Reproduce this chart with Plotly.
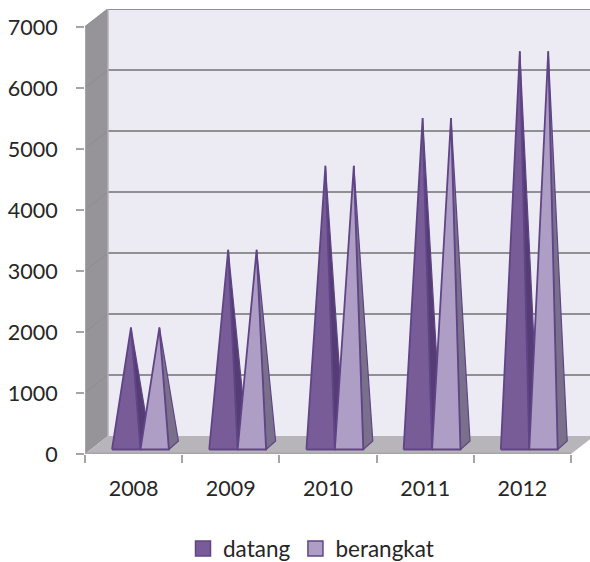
import plotly.graph_objects as go

years = ["2008", "2009", "2010", "2011", "2012"]
datang = [1930, 3205, 4580, 5365, 6460]
berangkat = [1930, 3205, 4580, 5365, 6460]
series_names = ["datang", "berangkat"]
front_colors = ["#785C98", "#AE9EC5"]
side_colors = ["#553C75", "#7A708C"]
edge_color = "#5F4585"

PX_X = 97.2
PX_Y = 0.06107
DEPTH_X = 23 / PX_X
DEPTH_Y = 18 / PX_Y
XMAX = 505 / PX_X
YTOP = 7000 + DEPTH_Y
GAP = 0.278
W = 0.2925
PDX = 0.098
PDY = 139
BASE = 74

fig = go.Figure()
values = [datang, berangkat]
for s, vals in enumerate(values):
    for i, v in enumerate(vals):
        x0 = i + GAP + s * W
        x1 = x0 + W
        ax = (x0 + x1) / 2 + PDX / 2
        ay = BASE + PDY / 2 + v
        fig.add_trace(go.Scatter(
            x=[x1, x1 + PDX, ax, x1], y=[BASE, BASE + PDY, ay, BASE],
            mode="lines", fill="toself", fillcolor=side_colors[s],
            line=dict(color=edge_color, width=1.2), showlegend=False, hoverinfo="skip"))
        fig.add_trace(go.Scatter(
            x=[x0, x1, ax, x0], y=[BASE, BASE, ay, BASE],
            mode="lines", fill="toself", fillcolor=front_colors[s],
            line=dict(color=edge_color, width=1.8), showlegend=False,
            name=series_names[s], text=years[i], hoverinfo="name+text"))
    fig.add_trace(go.Scatter(
        x=[None], y=[None], mode="markers", name=series_names[s],
        marker=dict(symbol="square", size=15, color=front_colors[s],
                    line=dict(color=edge_color, width=1.5))))

wall = "#A6A6A6"
grid = "#909092"
shapes = []
shapes.append(dict(type="path", layer="below", fillcolor="#ECEAF2", line_width=0,
                   path=f"M {DEPTH_X} {DEPTH_Y} L {XMAX} {DEPTH_Y} L {XMAX} {YTOP} L {DEPTH_X} {YTOP} Z"))
shapes.append(dict(type="path", layer="below", fillcolor="#969498", line_width=0,
                   path=f"M 0 0 L {DEPTH_X} {DEPTH_Y} L {DEPTH_X} {YTOP} L 0 7000 Z"))
shapes.append(dict(type="path", layer="below", fillcolor="#B8B5BA", line_width=0,
                   path=f"M 0 0 L 5 0 L {5 + DEPTH_X} {DEPTH_Y} L {DEPTH_X} {DEPTH_Y} Z"))
for k in range(1, 8):
    y = k * 1000
    shapes.append(dict(type="line", layer="below", x0=0, y0=y, x1=DEPTH_X, y1=y + DEPTH_Y,
                       line=dict(color=grid, width=1.5)))
    shapes.append(dict(type="line", layer="below", x0=DEPTH_X, y0=y + DEPTH_Y, x1=XMAX, y1=y + DEPTH_Y,
                       line=dict(color=grid, width=2)))
shapes.append(dict(type="line", layer="below", x0=0, y0=0, x1=0, y1=7000, line=dict(color=wall, width=2)))
shapes.append(dict(type="line", layer="below", x0=0, y0=0, x1=5, y1=0, line=dict(color=wall, width=3)))
shapes.append(dict(type="line", layer="below", x0=DEPTH_X, y0=DEPTH_Y, x1=DEPTH_X, y1=YTOP,
                   line=dict(color="#B4B2B8", width=1.5)))

font = dict(family="Lato", size=21.5, color="#262626")
legend_font = dict(family="Lato", size=22.5, color="#262626")
fig.update_layout(
    width=590, height=562, autosize=False,
    margin=dict(l=85, r=0, t=9, b=107.5, autoexpand=False),
    paper_bgcolor="white", plot_bgcolor="white",
    shapes=shapes, font=font, hovermode="closest",
    xaxis=dict(range=[0, XMAX], tickmode="array", tickvals=[i + 0.5 for i in range(5)],
               ticktext=years, ticks="", showgrid=False, zeroline=False, showline=False,
               ticklabelstandoff=19, tickfont=font,
               minor=dict(tickmode="array", tickvals=list(range(6)), ticks="outside",
                          ticklen=8, tickwidth=2, tickcolor=wall, showgrid=False)),
    yaxis=dict(range=[0, YTOP], tickmode="array", tickvals=[k * 1000 for k in range(8)],
               ticks="outside", ticklen=8, tickwidth=2, tickcolor=wall, showgrid=False,
               zeroline=False, showline=False, ticklabelstandoff=14, tickfont=font),
    legend=dict(orientation="h", x=183 / 590, xanchor="left", xref="container", yref="container",
                y=0.0235, yanchor="middle", font=legend_font, bgcolor="rgba(0,0,0,0)",
                itemclick=False, itemdoubleclick=False),
)
fig.write_html("out.html", config=dict(displayModeBar=False),
               post_script="document.body.style.margin='0';document.documentElement.style.overflow='hidden';")
